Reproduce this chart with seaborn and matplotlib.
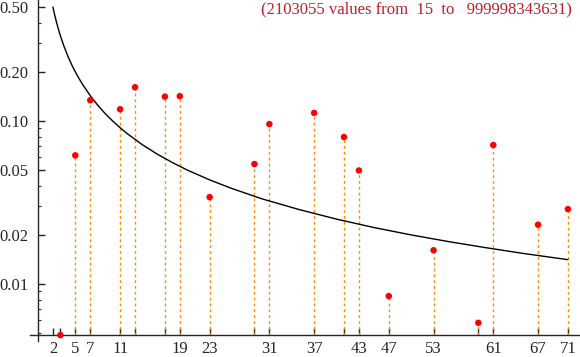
import numpy as np
import pandas as pd
import seaborn as sns
import matplotlib.pyplot as plt
from matplotlib.ticker import FixedLocator, FixedFormatter, LogLocator, NullFormatter

# values (log scale)
primes = [3, 5, 7, 11, 13, 17, 19, 23, 29, 31, 37, 41, 43, 47, 53, 59, 61, 67, 71]
freq = [0.00486, 0.0615, 0.134, 0.118, 0.161, 0.141, 0.142, 0.0341, 0.0544, 0.0957,
        0.112, 0.0797, 0.0497, 0.00843, 0.0161, 0.00578, 0.0712, 0.0231, 0.0288]

# reference curve
curve_x = [2, 2.25, 2.5, 2.75, 3, 3.5, 4, 4.5, 5, 5.5, 6, 7, 8, 9, 10, 11, 12, 14,
           16, 18, 20, 23, 26, 30, 35, 40, 45, 50, 55, 60, 65, 71]
curve_y = [0.5, 0.444, 0.4, 0.364, 0.333, 0.286, 0.25, 0.222, 0.2, 0.182, 0.167,
           0.143, 0.125, 0.111, 0.1, 0.0909, 0.0833, 0.0714, 0.0625, 0.0556, 0.05,
           0.0435, 0.0385, 0.0333, 0.0286, 0.025, 0.0222, 0.02, 0.0182, 0.0167,
           0.0154, 0.0141]

tick_primes = [2, 3, 5, 7, 11, 13, 17, 19, 23, 29, 31, 37, 41, 43, 47, 53, 59, 61, 67, 71]
shown_labels = [2, 5, 7, 11, 19, 23, 31, 37, 43, 47, 53, 61, 67, 71]
y_ticks = [0.01, 0.02, 0.05, 0.10, 0.20, 0.50]

title_text = "(2103055 values from  15  to   999998343631)"

sns.set_style("ticks")
plt.rcParams['font.family'] = ['Liberation Serif', 'DejaVu Serif']

df = pd.DataFrame({'p': primes, 'f': freq})
curve = pd.DataFrame({'x': curve_x, 'y': curve_y})

fig = plt.figure(figsize=(5.8, 3.57), dpi=100)
ax = fig.add_axes([30 / 580, 16 / 357, 550 / 580, 341 / 357])

ax.set_yscale('log')
ax.set_xlim(-1.07, 72.62)
ax.set_ylim(0.00447, 0.552)
base = 0.00486

# dotted stems
ax.vlines(df['p'], base, df['f'], colors='#ff8c00', linestyles=(0, (2, 2.2)),
          linewidth=1, zorder=1)

sns.lineplot(data=curve, x='x', y='y', ax=ax, color='black', linewidth=1, zorder=2)
sns.scatterplot(data=df, x='p', y='f', ax=ax, color='#ff0000', s=22,
                edgecolor='none', zorder=3, clip_on=False)

# axes like Mathematica: crossing at (0, base)
ax.spines['left'].set_position(('data', 0))
ax.spines['bottom'].set_position(('data', base))
ax.spines['top'].set_visible(False)
ax.spines['right'].set_visible(False)
ax.spines['left'].set_linewidth(1)
ax.spines['bottom'].set_linewidth(1)

ax.xaxis.set_major_locator(FixedLocator(tick_primes))
ax.xaxis.set_major_formatter(FixedFormatter(
    [str(p) if p in shown_labels else '' for p in tick_primes]))
ax.yaxis.set_major_locator(FixedLocator(y_ticks))
ax.yaxis.set_major_formatter(FixedFormatter(['%.2f' % v for v in y_ticks]))
ax.yaxis.set_minor_locator(LogLocator(base=10, subs=np.arange(2, 10)))
ax.yaxis.set_minor_formatter(NullFormatter())

ax.tick_params(axis='x', direction='in', length=5, width=1, pad=4, labelsize=12)
ax.tick_params(axis='y', which='major', direction='in', length=5, width=1, pad=7,
               labelsize=12)
ax.tick_params(axis='y', which='minor', direction='in', length=2.5, width=0.8)
ax.set_xlabel('')
ax.set_ylabel('')

ax.text(0.985, 0.995, title_text, transform=ax.transAxes, ha='right', va='top',
        color='#b8202a', fontsize=12)

fig.savefig('out.png', dpi=100)
